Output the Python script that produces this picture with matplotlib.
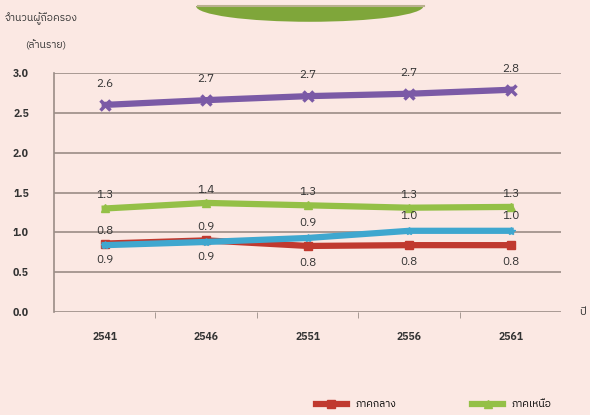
import matplotlib
matplotlib.use('Agg')
import matplotlib.pyplot as plt
from matplotlib.patches import Ellipse, Rectangle
from matplotlib.lines import Line2D
from matplotlib import font_manager

# data (million holders)
years = ['2541', '2546', '2551', '2556', '2561']
purple_vals = [2.60, 2.66, 2.71, 2.74, 2.79]
green_vals = [1.30, 1.37, 1.34, 1.31, 1.32]
blue_vals = [0.84, 0.88, 0.93, 1.02, 1.02]
red_vals = [0.86, 0.90, 0.83, 0.84, 0.84]
yticks = [0.0, 0.5, 1.0, 1.5, 2.0, 2.5, 3.0]
legend_names = ['ภาคกลาง', 'ภาคเหนือ']

thai = [f.name for f in font_manager.fontManager.ttflist if 'Thai' in f.name]
plt.rcParams['font.family'] = thai[:1] + ['DejaVu Sans']

BG = '#fbe8e3'
GRID = '#9a8c86'
TXT = '#333333'

fig = plt.figure(figsize=(5.9, 4.15), dpi=100, facecolor=BG)
ax = fig.add_axes([0.0915, 0.248, 0.86, 0.576])
ax.set_facecolor(BG)

x = list(range(len(years)))
ax.plot(x, purple_vals, color='#7b5aa6', lw=4.5, marker='x', ms=7, mew=2.5)
ax.plot(x, green_vals, color='#94c047', lw=4.5, marker='^', ms=6)
ax.plot(x, red_vals, color='#c0392f', lw=4.5, marker='s', ms=6)
ax.plot(x, blue_vals, color='#3fa7cf', lw=4.5, marker='*', ms=6)

def labels(vals, dy):
    for i, v in enumerate(vals):
        ax.annotate('%.1f' % v, (i, v), xytext=(0, dy), textcoords='offset points',
                    ha='center', va='center', fontsize=8.5, color=TXT)

labels(purple_vals, 15)
labels(green_vals, 9.5)
labels(blue_vals, 10.5)
labels(red_vals, -12)

ax.set_xlim(-0.5, len(years) - 0.5)
ax.set_ylim(0, 3.0)
ax.set_yticks(yticks)
ax.set_yticklabels(['%.1f' % t for t in yticks], fontsize=7.5, color=TXT, fontweight='bold')
ax.set_xticks(x)
ax.set_xticklabels(years, fontsize=7.5, color=TXT, fontweight='bold')
ax.set_xticks([i + 0.5 for i in x[:-1]], minor=True)
ax.tick_params(axis='x', which='major', length=0, pad=14)
ax.tick_params(axis='x', which='minor', length=4, color=GRID, direction='out')
ax.tick_params(axis='y', length=0, pad=18)
ax.yaxis.grid(True, color=GRID, lw=1.2)
ax.set_axisbelow(True)
for s in ['top', 'right', 'bottom']:
    ax.spines[s].set_visible(False)
ax.spines['left'].set_color(GRID)
ax.spines['left'].set_linewidth(1.2)

fig.text(0.008, 0.955, 'จำนวนผู้ถือครอง', fontsize=7.5, color=TXT, va='center')
fig.text(0.042, 0.89, '(ล้านราย)', fontsize=7.5, color=TXT, va='center')
fig.text(0.982, 0.248, 'ปี', fontsize=8, color=TXT, va='center')

# decorative green bar at top
fig.patches.append(Ellipse((0.525, 0.985), 0.385, 0.075, transform=fig.transFigure,
                           facecolor='#7fa63a', edgecolor='none'))
fig.patches.append(Rectangle((0.33, 0.985), 0.39, 0.03, transform=fig.transFigure,
                             facecolor=BG, edgecolor='none'))
fig.lines.append(Line2D([0.335, 0.718], [0.985, 0.985], transform=fig.transFigure,
                        color='#b9b08e', lw=1.5))

handles = [Line2D([], [], color='#c0392f', lw=4.5, marker='s', ms=6),
           Line2D([], [], color='#94c047', lw=4.5, marker='^', ms=6)]
fig.legend(handles, legend_names, loc='center', bbox_to_anchor=(0.735, 0.025), ncol=2,
           frameon=False, fontsize=7.5, handlelength=3, columnspacing=7.3)

fig.savefig('out.png', dpi=100, facecolor=BG)
